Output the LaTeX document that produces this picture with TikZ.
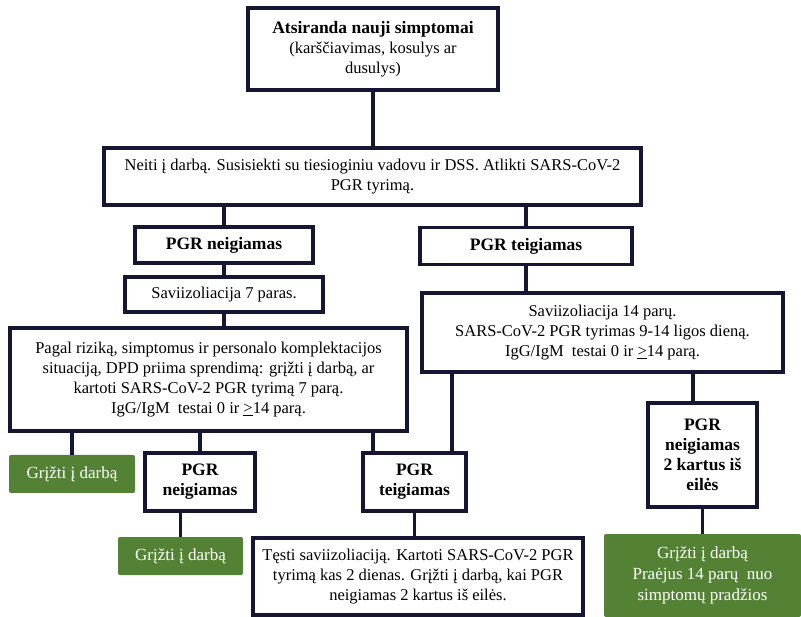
\documentclass[tikz,border=0pt]{standalone}
\usepackage{fontspec}
\setmainfont{Liberation Serif}
\definecolor{boxline}{RGB}{22,22,52}
\definecolor{okgreen}{RGB}{84,130,53}

\begin{document}
\begin{tikzpicture}[x=1pt,y=-1pt,
		box/.style={draw=boxline, line width=3.5pt, fill=white, align=center, inner sep=1pt, font=\fontsize{16.5}{20}\selectfont},
		okbox/.style={fill=okgreen, rounded corners=2pt, text=white, align=center, inner sep=1pt, font=\fontsize{17}{21}\selectfont},
		link/.style={draw=boxline, line width=3.5pt}]
			\def\hd#1{{\fontsize{17.5}{21}\selectfont\bfseries #1}}
			\useasboundingbox (0,0) rectangle (801,617);

			% Start
			\node[box, minimum width=250pt, minimum height=82pt] (onset) at (373,49) {\hd{Atsiranda nauji simptomai}\\(karščiavimas, kosulys ar\\dusulys)};
			\node[box, minimum width=537pt, minimum height=57pt] (work) at (372.5,176.5) {Neiti į darbą. Susisiekti su tiesioginiu vadovu ir DSS. Atlikti SARS-CoV-2\\PGR tyrimą.};

			% First test result
			\node[box, minimum width=178pt, minimum height=36pt] (negA) at (224,245) {\hd{PGR neigiamas}};
			\node[box, minimum width=212pt, minimum height=37pt] (posA) at (526,246) {\hd{PGR teigiamas}};
			\node[box, minimum width=198pt, minimum height=35pt] (iso7) at (224,294.5) {Saviizoliacija 7 paras.};
			\node[box, minimum width=397pt, minimum height=103pt] (decide) at (208.5,379.5) {Pagal riziką, simptomus ir personalo komplektacijos\\situaciją, DPD priima sprendimą: grįžti į darbą, ar\\kartoti SARS-CoV-2 PGR tyrimą 7 parą.\\IgG/IgM\ \ testai 0 ir \underline{>}14 parą.};
			\node[box, minimum width=361pt, minimum height=79pt] (iso14) at (602.5,332.5) {Saviizoliacija 14 parų.\\SARS-CoV-2 PGR tyrimas 9-14 ligos dieną.\\IgG/IgM\ \ testai 0 ir \underline{>}14 parą.};

			% Repeat test
			\node[okbox, minimum width=126pt, minimum height=38pt] (ret1) at (72,474) {Grįžti į darbą};
			\node[box, minimum width=110pt, minimum height=58pt] (negB) at (200,482) {\hd{PGR}\\\hd{neigiamas}};
			\node[okbox, minimum width=125pt, minimum height=38pt] (ret2) at (180.5,556) {Grįžti į darbą};
			\node[box, minimum width=103pt, minimum height=58pt] (posB) at (414.5,482) {\hd{PGR}\\\hd{teigiamas}};
			\node[box, minimum width=330pt, minimum height=77pt] (cont) at (418,576.5) {Tęsti saviizoliaciją. Kartoti SARS-CoV-2 PGR\\tyrimą kas 2 dienas. Grįžti į darbą, kai PGR\\neigiamas 2 kartus iš eilės.};
			\node[box, minimum width=109pt, minimum height=104pt] (neg2x) at (702.5,455) {\hd{PGR}\\\hd{neigiamas}\\\hd{2 kartus iš}\\\hd{eilės}};
			\node[okbox, minimum width=197pt, minimum height=83pt] (ret3) at (702.5,575.5) {Grįžti į darbą\\Praėjus 14 parų\ \ nuo\\simptomų pradžios};

			% Taps
			\coordinate (tapL) at (373,0);
			\coordinate (tapR) at (452,0);
			\coordinate (tapN) at (693,0);

			\draw[link] (onset.south) -- (onset.south |- work.north);
			\draw[link] (negA |- work.south) -- (negA.north);
			\draw[link] (posA |- work.south) -- (posA.north);
			\draw[link] (negA.south) -- (iso7.north);
			\draw[link] (iso7.south) -- (iso7.south |- decide.north);
			\draw[link] (posA.south) -- (posA.south |- iso14.north);
			\draw[link] (ret1 |- decide.south) -- (ret1.north);
			\draw[link] (negB |- decide.south) -- (negB.north);
			\draw[link] (tapL |- decide.south) -- (tapL |- posB.north);
			\draw[link] (tapR |- iso14.south) -- (tapR |- posB.north);
			\draw[link] (tapN |- iso14.south) -- (tapN |- neg2x.north);
			\draw[link] (ret2 |- negB.south) -- (ret2.north);
			\draw[link] (posB.south) -- (posB.south |- cont.north);
			\draw[link] (neg2x.south) -- (ret3.north);
		\end{tikzpicture}
\end{document}
